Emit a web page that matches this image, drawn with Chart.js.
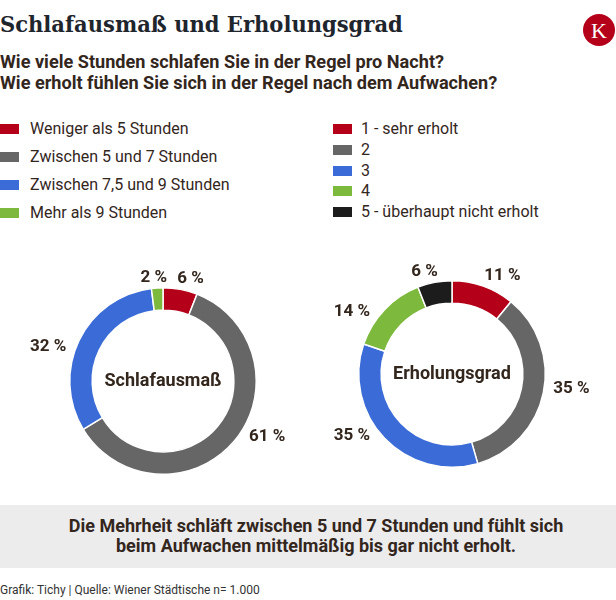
<!DOCTYPE html>
<html>
<head>
<meta charset="utf-8">
<script src="https://cdn.jsdelivr.net/npm/chart.js@4"></script>
<style>
  html, body { margin: 0; padding: 0; background: #fff; }
  #page { position: relative; width: 616px; height: 600px; overflow: hidden; font-family: Roboto, sans-serif; color: #33261d; }
  .abs { position: absolute; white-space: nowrap; }
  #title { left: 0; top: 12px; font-family: "DejaVu Serif", serif; font-weight: bold; font-size: 23px; line-height: 23px; color: #1e252d; transform-origin: 0 0; }
  #logo { left: 583px; top: 14px; width: 32px; height: 32px; border-radius: 50%; background: #b5001a; color: #fff; font-family: "Liberation Serif", serif; font-size: 22px; text-align: center; line-height: 33px; }
  #sub { left: 0; top: 51px; font-weight: bold; font-size: 18px; line-height: 21px; transform-origin: 0 0; }
  .legend { position: absolute; top: 118px; }
  .legend div { position: relative; padding-left: 30px; font-size: 16px; white-space: nowrap; }
  .legend span { position: absolute; left: 0; width: 19px; height: 10px; }
  #leg1 div { height: 28px; line-height: 22px; }
  #leg2 { left: 333px; }
  #leg2 div { height: 20.8px; line-height: 22px; padding-left: 28px; }
  #leg2 span { top: 6px; }
  #leg1 span { top: 6px; }
  canvas { position: absolute; }
  #box { left: 0; top: 505px; width: 616px; height: 63px; background: #ececec; text-align: center; font-weight: bold; font-size: 18px; line-height: 20px; padding: 11px 0 0 16px; box-sizing: border-box; white-space: normal; }
  #foot { left: 0; top: 583px; font-size: 12px; color: #333; }
</style>
</head>
<body>
<div id="page">
  <div id="title" class="abs">Schlafausmaß und Erholungsgrad</div>
  <div id="logo" class="abs">K</div>
  <div id="sub" class="abs">Wie viele Stunden schlafen Sie in der Regel pro Nacht?<br>Wie erholt fühlen Sie sich in der Regel nach dem Aufwachen?</div>
  <div id="leg1" class="legend"></div>
  <div id="leg2" class="legend"></div>
  <canvas id="sleepChart" width="300" height="250" style="left:13px;top:256px;width:300px;height:250px"></canvas>
  <canvas id="restChart" width="300" height="250" style="left:302px;top:249px;width:300px;height:250px"></canvas>
  <div id="box" class="abs">Die Mehrheit schläft zwischen 5 und 7 Stunden und fühlt sich<br>beim Aufwachen mittelmäßig bis gar nicht erholt.</div>
  <div id="foot" class="abs">Grafik: Tichy | Quelle: Wiener Städtische n= 1.000</div>
</div>
<script>
// --- data ---
var sleepLabels = ['Weniger als 5 Stunden', 'Zwischen 5 und 7 Stunden', 'Zwischen 7,5 und 9 Stunden', 'Mehr als 9 Stunden'];
var sleepValues = [6, 61, 32, 2];
var sleepColors = ['#b5001a', '#666666', '#3a6bd6', '#7cb93c'];

var restLabels = ['1 - sehr erholt', '2', '3', '4', '5 - überhaupt nicht erholt'];
var restValues = [11, 35, 35, 14, 6];
var restColors = ['#b5001a', '#666666', '#3a6bd6', '#7cb93c', '#1c1c1c'];

// squeeze title and subtitle to the widths of the condensed originals
var titleEl = document.getElementById('title');
titleEl.style.transform = 'scaleX(' + (403 / titleEl.offsetWidth) + ')';
var subEl = document.getElementById('sub');
subEl.style.transform = 'scaleX(' + (497 / subEl.offsetWidth) + ')';

function buildLegend(id, labels, colors) {
  var el = document.getElementById(id);
  labels.forEach(function(l, i) {
    var row = document.createElement('div');
    var sw = document.createElement('span');
    sw.style.background = colors[i];
    row.appendChild(sw);
    row.appendChild(document.createTextNode(l));
    el.appendChild(row);
  });
}
buildLegend('leg1', sleepLabels, sleepColors);
buildLegend('leg2', restLabels, restColors);

// outside percent labels + centre title
var SKEW = 12 * Math.PI / 180; // labels lean toward the horizontal
var outsideLabels = {
  id: 'outsideLabels',
  afterDatasetsDraw: function(chart, args, opts) {
    var ctx = chart.ctx;
    var meta = chart.getDatasetMeta(0);
    var values = chart.data.datasets[0].data;
    ctx.save();
    ctx.fillStyle = '#33261d';
    ctx.font = 'bold 17px Roboto';
    ctx.textAlign = 'center';
    ctx.textBaseline = 'middle';
    var boxes = [];
    meta.data.forEach(function(arc, i) {
      var p = arc.getProps(['x', 'y', 'startAngle', 'endAngle', 'outerRadius'], true);
      var mid = (p.startAngle + p.endAngle) / 2;
      var a = mid - SKEW * Math.sin(2 * mid);
      var txt = values[i] + ' %';
      var w = ctx.measureText(txt).width;
      var r = p.outerRadius + 9 + Math.abs(Math.cos(a)) * w / 2;
      boxes.push({ txt: txt, x: p.x + Math.cos(a) * r, y: p.y + Math.sin(a) * r, w: w });
    });
    // push apart labels that collide
    for (var i = 0; i < boxes.length; i++) {
      for (var j = i + 1; j < boxes.length; j++) {
        var A = boxes[i], B = boxes[j];
        if (Math.abs(A.y - B.y) < 18) {
          var need = (A.w + B.w) / 2 + 9 - Math.abs(A.x - B.x);
          if (need > 0) {
            var s = A.x < B.x ? -1 : 1;
            A.x += s * need / 2; B.x -= s * need / 2;
          }
        }
      }
    }
    boxes.forEach(function(bx) { ctx.fillText(bx.txt, bx.x, bx.y); });
    var c = meta.data[0];
    ctx.font = 'bold 18px Roboto';
    ctx.fillText(opts.text, c.x, c.y);
    ctx.restore();
  }
};

function makeDonut(id, labels, values, colors, title) {
  return new Chart(document.getElementById(id), {
    type: 'doughnut',
    data: {
      labels: labels,
      datasets: [{
        data: values,
        backgroundColor: colors,
        borderColor: '#ffffff',
        borderWidth: 1.5
      }]
    },
    options: {
      responsive: false,
      animation: false,
      cutout: '76%',
      layout: { padding: { left: 56, right: 56, top: 31, bottom: 31 } },
      plugins: {
        legend: { display: false },
        tooltip: { enabled: false },
        outsideLabels: { text: title }
      }
    },
    plugins: [outsideLabels]
  });
}

makeDonut('sleepChart', sleepLabels, sleepValues, sleepColors, 'Schlafausmaß');
makeDonut('restChart', restLabels, restValues, restColors, 'Erholungsgrad');
</script>
</body>
</html>
